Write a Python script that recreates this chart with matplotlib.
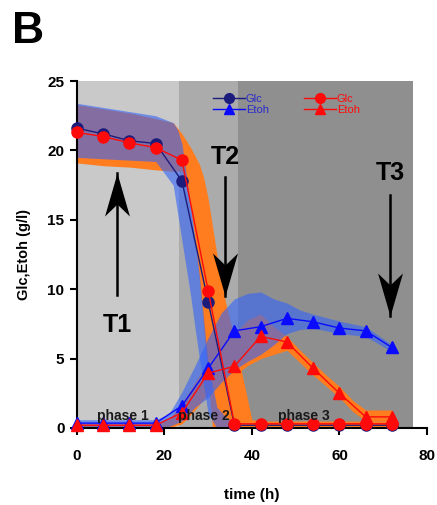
import numpy as np
import matplotlib
matplotlib.use("Agg")
import matplotlib.pyplot as plt
from matplotlib.lines import Line2D
from matplotlib.path import Path

plt.rcParams['font.family'] = ['Liberation Sans', 'DejaVu Sans']
plt.rcParams['font.weight'] = 'bold'
plt.rcParams['axes.labelweight'] = 'bold'

# sampling times (h)
time = [0, 6, 12, 18, 24, 30, 36, 42, 48, 54, 60, 66, 72]

# blue set
glc_blue = [21.6, 21.2, 20.7, 20.5, 17.8, 9.1, 0.2, 0.2, 0.2, 0.2, 0.2, 0.2, 0.2]
etoh_blue = [0.35, 0.35, 0.35, 0.35, 1.6, 4.3, 7.0, 7.3, 7.9, 7.65, 7.2, 7.0, 5.8]
# red set
glc_red = [21.3, 21.0, 20.55, 20.2, 19.3, 9.9, 0.3, 0.3, 0.3, 0.3, 0.3, 0.3, 0.3]
etoh_red = [0.2, 0.2, 0.2, 0.2, 1.1, 3.95, 4.45, 6.6, 6.2, 4.3, 2.5, 0.8, 0.8]

# bands
band_glc_red_t = [0, 6, 12, 18, 22, 24, 25, 26, 27, 28, 29, 30, 31, 32, 34, 36, 38, 40, 42, 72]
band_glc_red_hi = [23.3, 23.0, 22.7, 22.3, 22.0, 21.2, 20.7, 20.2, 19.6, 19.0, 18.0, 16.5, 14.5, 12.5, 9.0, 6.5, 3.5, 0.6, 0.5, 0.5]
band_glc_red_lo = [19.1, 18.9, 18.8, 18.6, 18.5, 18.5, 17.5, 15.8, 13.5, 10.5, 7.0, 3.5, 0.0, 0.0, 0.0, 0.0, 0.0, 0.0, 0.0, 0.0]

band_glc_blue_t = [0, 6, 12, 18, 22, 23, 24, 25, 26, 27, 28, 30, 32, 34, 36]
band_glc_blue_hi = [23.4, 23.1, 22.8, 22.5, 22.0, 21.5, 20.5, 18.3, 16.0, 13.5, 11.0, 4.5, 1.5, 0.8, 0.4]
band_glc_blue_lo = [19.5, 19.4, 19.3, 19.2, 17.5, 15.5, 13.5, 11.5, 9.5, 7.2, 5.0, 1.0, 0.0, 0.0, 0.0]

band_etoh_blue_t = [0, 18, 21, 24, 27, 30, 33, 36, 39, 42, 45, 48, 51, 54, 60, 66, 72]
band_etoh_blue_hi = [0.6, 0.6, 1.0, 2.6, 4.5, 6.5, 8.3, 9.3, 9.7, 9.8, 9.3, 9.0, 8.5, 8.2, 7.7, 7.3, 6.0]
band_etoh_blue_lo = [0.0, 0.0, 0.1, 0.5, 1.5, 2.2, 3.3, 4.2, 4.8, 5.3, 6.0, 6.8, 7.1, 7.2, 6.8, 6.6, 5.5]

band_etoh_red_t = [0, 18, 21, 24, 27, 30, 33, 36, 39, 42, 45, 48, 51, 54, 57, 60, 63, 66, 72]
band_etoh_red_hi = [0.3, 0.3, 0.6, 1.8, 3.3, 4.8, 5.8, 6.8, 7.8, 8.2, 7.3, 6.6, 5.6, 4.7, 3.8, 3.0, 2.0, 1.3, 1.3]
band_etoh_red_lo = [0.0, 0.0, 0.0, 0.3, 1.3, 2.5, 3.2, 3.8, 4.5, 5.0, 5.3, 5.6, 4.7, 3.8, 3.0, 2.2, 1.2, 0.5, 0.5]

# phases
phase_edges = [0, 23.3, 36.8, 76.8]
phase_colors = ['#c9c9c9', '#ababab', '#8f8f8f']
phase_names = ['phase 1', 'phase 2', 'phase 3']
phase_label_x = [10.5, 29.0, 51.9]

# time-point markers: label, x, tail y, tip y
tp_names = ['T1', 'T2', 'T3']
tp_x = [9.1, 33.9, 71.6]
tp_tail = [9.6, 18.1, 16.8]
tp_tip = [18.4, 9.5, 8.1]
tp_label_y = [7.4, 19.5, 18.4]

orange = '#ff7d1e'
blue_band = '#3264fa'
navy = '#1c1c7c'
blue = '#0a0aff'
red = '#ff0a0a'

fig = plt.figure(figsize=(4.37, 5.05), dpi=100)
ax = fig.add_axes([0.176, 0.1525, 0.801, 0.687])

for i in range(3):
    ax.axvspan(phase_edges[i], phase_edges[i + 1], color=phase_colors[i], lw=0, zorder=0)

ax.fill_between(band_glc_red_t, band_glc_red_lo, band_glc_red_hi, color=orange, lw=0, zorder=1)
ax.fill_between(band_etoh_red_t, band_etoh_red_lo, band_etoh_red_hi, color=orange, lw=0, zorder=1)
ax.fill_between(band_glc_blue_t, band_glc_blue_lo, band_glc_blue_hi, color=blue_band, alpha=0.6, lw=0, zorder=2)
ax.fill_between(band_etoh_blue_t, band_etoh_blue_lo, band_etoh_blue_hi, color=blue_band, alpha=0.6, lw=0, zorder=2)

ms = 8
ax.plot(time, glc_blue, '-o', color=navy, ms=ms, lw=1, zorder=4, clip_on=False)
ax.plot(time, etoh_blue, '-^', color=blue, ms=ms, lw=1, zorder=4, clip_on=False)
ax.plot(time, etoh_red, '-^', color=red, ms=ms, lw=1, zorder=5, clip_on=False)
ax.plot(time, glc_red, '-o', color=red, ms=ms, lw=1, zorder=6, clip_on=False)

for i in range(3):
    ax.text(phase_label_x[i], 0.85, phase_names[i], ha='center', va='center',
            fontsize=10, color='#1a1a1a', zorder=7)

# notched arrow heads (tip at marker centre)
head_down = Path([(0, 0), (-0.29, 1.0), (0, 0.72), (0.29, 1.0), (0, 0)],
                 [Path.MOVETO, Path.LINETO, Path.LINETO, Path.LINETO, Path.CLOSEPOLY])
head_up = Path([(0, 0), (-0.29, -1.0), (0, -0.72), (0.29, -1.0), (0, 0)],
               [Path.MOVETO, Path.LINETO, Path.LINETO, Path.LINETO, Path.CLOSEPOLY])
for i in range(3):
    ax.plot([tp_x[i], tp_x[i]], [tp_tail[i], tp_tip[i]], color='black', lw=1.8, zorder=8)
    head = head_up if tp_tip[i] > tp_tail[i] else head_down
    ax.plot([tp_x[i]], [tp_tip[i]], marker=head, ms=62, color='black', mew=0, zorder=9)
    ax.text(tp_x[i] + 0.1, tp_label_y[i], tp_names[i], fontsize=18, ha='center',
            va='center', zorder=8)

# legends
h1 = [Line2D([], [], color=navy, marker='o', ms=7, lw=1),
      Line2D([], [], color=blue, marker='^', ms=7, lw=1)]
h2 = [Line2D([], [], color=red, marker='o', ms=7, lw=1),
      Line2D([], [], color=red, marker='^', ms=7, lw=1)]
leg1 = ax.legend(h1, ['Glc', 'Etoh'], loc='upper left', bbox_to_anchor=(0.375, 0.975),
                 frameon=False, handlelength=2.9, handletextpad=0.1, borderaxespad=0,
                 labelspacing=0.05, labelcolor=['#2a2acc', '#2a2acc'],
                 prop={'weight': 'normal', 'size': 8})
ax.add_artist(leg1)
ax.legend(h2, ['Glc', 'Etoh'], loc='upper left', bbox_to_anchor=(0.635, 0.975),
          frameon=False, handlelength=2.9, handletextpad=0.1, borderaxespad=0,
          labelspacing=0.05, labelcolor=[red, red],
          prop={'weight': 'normal', 'size': 8})

ax.set_xlim(0, 80)
ax.set_ylim(0, 25)
ax.set_xticks([0, 20, 40, 60, 80])
ax.set_yticks([0, 5, 10, 15, 20, 25])
ax.spines['top'].set_visible(False)
ax.spines['right'].set_visible(False)
ax.spines['left'].set_linewidth(1.5)
ax.spines['bottom'].set_linewidth(1.5)
ax.tick_params(direction='out', length=5, width=1.5, labelsize=11, pad=10)
ax.tick_params(axis='y', pad=4)
ax.set_xlabel('time (h)', fontsize=11, labelpad=18)
ax.set_ylabel('Glc,Etoh (g/l)', fontsize=10.5, labelpad=12)

fig.text(0.027, 0.938, 'B', fontsize=32, weight='bold', ha='left', va='center')

fig.savefig('out.png', dpi=100)
